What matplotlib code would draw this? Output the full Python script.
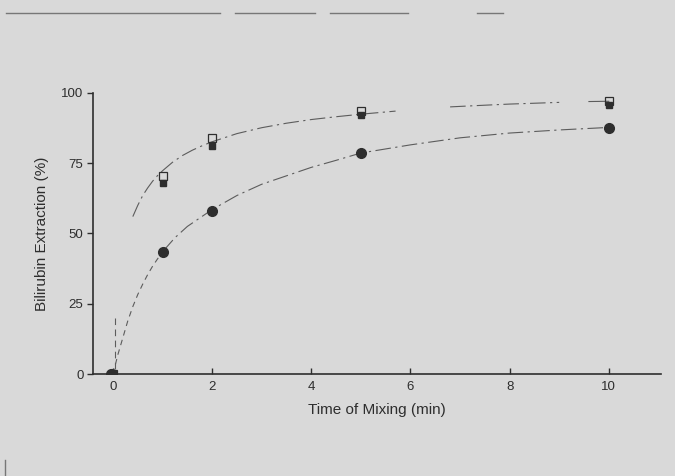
import matplotlib
matplotlib.use("Agg")
import matplotlib.pyplot as plt
from matplotlib.lines import Line2D

# data points
times = [0, 1, 2, 5, 10]
circle_vals = [0, 43.5, 58, 78.6, 87.5]
filled_sq_vals = [0, 68, 81, 92, 95.5]
open_sq_vals = [0, 70.5, 84, 93.5, 97]

# fitted curves
upper_x = [0.4, 0.5, 0.6, 0.7, 0.8, 0.9, 1.0, 1.2, 1.4, 1.6, 1.8, 2.0, 2.5, 3.0, 3.5, 4.0, 4.5, 5.0, 5.7]
upper_y = [56, 60, 63.5, 66.2, 68.6, 70.6, 72.3, 75.3, 77.7, 79.6, 81.2, 82.6, 85.5, 87.6, 89.2, 90.5, 91.5, 92.4, 93.5]
upper2_x = [6.8, 7.5, 8.0, 8.5, 9.0]
upper2_y = [95.0, 95.6, 96.0, 96.3, 96.6]
upper3_x = [9.6, 10.0]
upper3_y = [96.9, 97.0]

lower_dash_x = [0.0, 0.1, 0.2, 0.3, 0.4, 0.5, 0.6, 0.7, 0.8, 0.9, 1.0]
lower_dash_y = [0, 7, 13, 19, 24, 28.3, 32, 35.4, 38.4, 41, 43.5]
lower_x = [1.0, 1.25, 1.5, 1.75, 2.0, 2.5, 3.0, 3.5, 4.0, 4.5, 5.0, 6.0, 7.0, 8.0, 9.0, 10.0]
lower_y = [43.5, 48.5, 52.5, 55.5, 58.5, 63.5, 67.5, 70.5, 73.5, 76, 78.6, 81.5, 84, 85.7, 86.8, 87.7]
vert_x = [0.05, 0.05]
vert_y = [2, 20]

xticks = [0, 2, 4, 6, 8, 10]
yticks = [0, 25, 50, 75, 100]

bg = "#d9d9d9"
ink = "#2e2e2e"
linec = "#5c5c5c"

plt.rcParams['font.family'] = ['Liberation Sans', 'DejaVu Sans']

fig = plt.figure(figsize=(6.75, 4.76), dpi=100, facecolor=bg)
ax = fig.add_axes([0.138, 0.214, 0.841, 0.591], facecolor=bg)

dashdot = (0, (14, 4, 2, 4))
ax.plot(upper_x, upper_y, color=linec, lw=0.8, linestyle=dashdot)
ax.plot(upper2_x, upper2_y, color=linec, lw=0.8, linestyle=dashdot)
ax.plot(upper3_x, upper3_y, color=linec, lw=0.8)
ax.plot(lower_dash_x, lower_dash_y, color=linec, lw=0.8, linestyle=(0, (5, 4)))
ax.plot(lower_x, lower_y, color=linec, lw=0.8, linestyle=dashdot)
ax.plot(vert_x, vert_y, color=linec, lw=0.8, linestyle=(0, (6, 4)))

ax.plot(times, open_sq_vals, linestyle='none', marker='s', ms=5.5,
        mfc='none', mec=ink, mew=0.9)
ax.plot(times, filled_sq_vals, linestyle='none', marker='s', ms=5,
        mfc=ink, mec=ink)
ax.plot([t - 0.04 if t == 0 else t for t in times], circle_vals,
        linestyle='none', marker='o', ms=7, mfc=ink, mec=ink)

ax.set_xlim(-0.4, 11.05)
ax.set_ylim(0, 100)
ax.set_xticks(xticks)
ax.set_yticks(yticks)
for s in ['top', 'right']:
    ax.spines[s].set_visible(False)
for s in ['left', 'bottom']:
    ax.spines[s].set_color(ink)
    ax.spines[s].set_linewidth(1.2)
ax.tick_params(axis='x', direction='in', length=4, width=1, colors=ink,
               labelsize=9.5, pad=5)
ax.tick_params(axis='y', direction='out', length=4, width=1, colors=ink,
               labelsize=9.5, pad=3)
ax.set_xlabel("Time of Mixing (min)", fontsize=11, color=ink, labelpad=7)
ax.set_ylabel("Bilirubin Extraction (%)", fontsize=11, color=ink, labelpad=9)

# scan artefact lines at top
for x0, x1 in [(6, 220), (235, 315), (330, 408), (477, 503)]:
    fig.add_artist(Line2D([x0 / 675, x1 / 675], [1 - 13 / 476, 1 - 13 / 476],
                          color="#777777", lw=1.0, transform=fig.transFigure))
fig.add_artist(Line2D([5 / 675, 5 / 675], [0, 16 / 476], color="#777777",
                      lw=1.0, transform=fig.transFigure))

fig.savefig("out.png", dpi=100, facecolor=bg)
